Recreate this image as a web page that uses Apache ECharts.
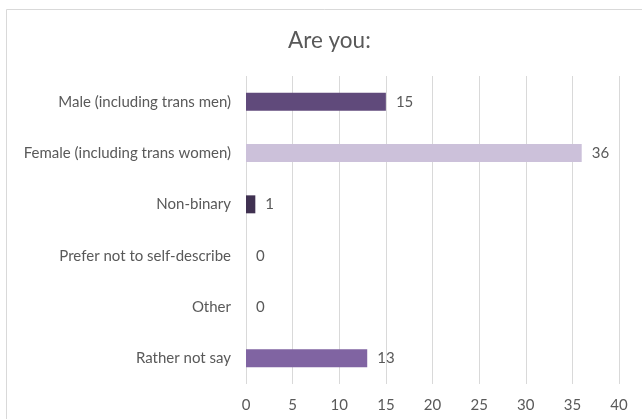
<!DOCTYPE html>
<html>
<head>
<meta charset="utf-8">
<script src="https://cdn.jsdelivr.net/npm/echarts@6/dist/echarts.min.js"></script>
<style>
  html, body { margin: 0; padding: 0; background: #fff; }
  #chart { width: 642px; height: 419px; }
</style>
</head>
<body>
<div id="chart"></div>
<script>
// Survey responses: gender identity
const categories = [
  'Male (including trans men)',
  'Female (including trans women)',
  'Non-binary',
  'Prefer not to self-describe',
  'Other',
  'Rather not say'
];
const counts = [15, 36, 1, 0, 0, 13];
const barColors = ['#604a7b', '#ccc1da', '#403151', '#604a7b', '#604a7b', '#8064a2'];
const xTicks = { min: 0, max: 40, interval: 5 };

const FONT = 'Lato, "Liberation Sans", sans-serif';
const TEXT = '#595959';

const chart = echarts.init(document.getElementById('chart'), null, { renderer: 'canvas' });
chart.setOption({
  animation: false,
  backgroundColor: '#fff',
  graphic: [{
    type: 'rect',
    shape: { x: 6.5, y: 9.5, width: 700, height: 500 },
    style: { fill: 'none', stroke: '#d9d9d9', lineWidth: 1 },
    silent: true
  }],
  title: {
    text: 'Are you:',
    left: 283,
    top: 24,
    textStyle: { fontFamily: FONT, fontSize: 22.5, fontWeight: 'normal', color: TEXT }
  },
  grid: { left: 246, right: 23, top: 76, bottom: 35, containLabel: false },
  xAxis: {
    type: 'value',
    min: xTicks.min, max: xTicks.max, interval: xTicks.interval,
    axisLine: { show: false },
    axisTick: { show: false },
    splitLine: { show: true, lineStyle: { color: '#d9d9d9', width: 1 } },
    axisLabel: { fontFamily: FONT, fontSize: 15, color: TEXT, margin: 14 }
  },
  yAxis: {
    type: 'category',
    data: categories,
    inverse: true,
    axisLine: { show: false },
    axisTick: { show: false },
    axisLabel: { fontFamily: FONT, fontSize: 15, color: TEXT, margin: 15 }
  },
  series: [{
    type: 'bar',
    data: counts.map((v, i) => ({ value: v, itemStyle: { color: barColors[i] } })),
    barWidth: '35%',
    label: {
      show: true,
      position: 'right',
      distance: 10,
      fontFamily: FONT, fontSize: 15, color: TEXT
    }
  }]
});
</script>
</body>
</html>
